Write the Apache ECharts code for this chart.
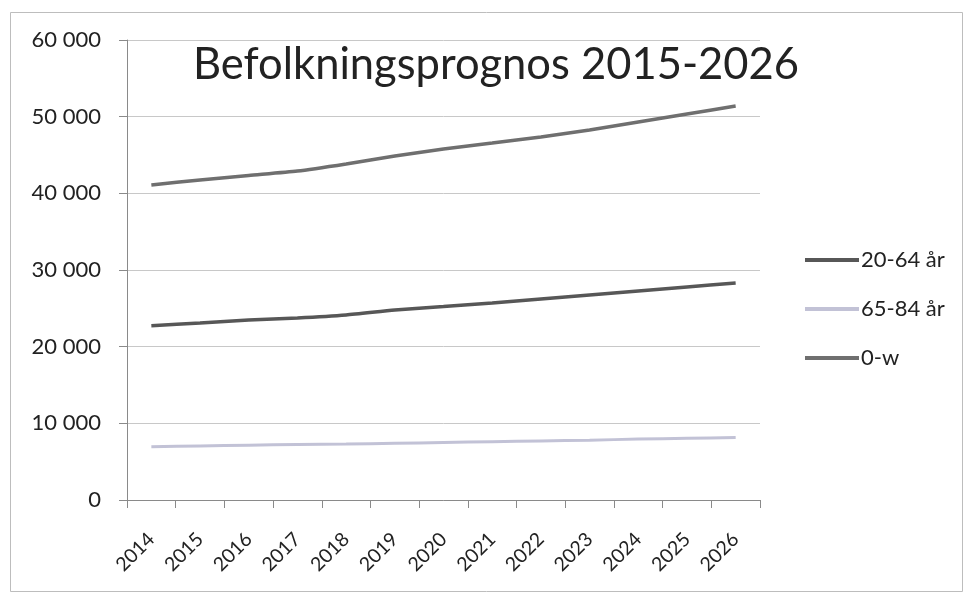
<!DOCTYPE html>
<html>
<head>
<meta charset="utf-8">
<script src="https://cdn.jsdelivr.net/npm/echarts@6/dist/echarts.min.js"></script>
<style>
html,body{margin:0;padding:0;background:#fff;}
#c{width:964px;height:593px;}
</style>
</head>
<body>
<div id="c"></div>
<script>
const titleText = 'Befolkningsprognos 2015-2026';
const years = ['2014','2015','2016','2017','2018','2019','2020','2021','2022','2023','2024','2025','2026'];
const age20_64 = [22730, 23090, 23480, 23740, 24130, 24780, 25240, 25700, 26220, 26740, 27260, 27780, 28300];
const age65_84 = [6950, 7050, 7150, 7230, 7300, 7400, 7500, 7600, 7700, 7800, 7950, 8050, 8150];
const age0_w = [41090, 41740, 42330, 42900, 43830, 44870, 45780, 46560, 47350, 48260, 49300, 50350, 51390];
const seriesNames = ['20-64 år', '65-84 år', '0-w'];

const fmt = v => String(v).replace(/\B(?=(\d{3})+(?!\d))/g, ' ');
const chart = echarts.init(document.getElementById('c'));
const font = 'Lato, "Open Sans", sans-serif';
chart.setOption({
  animation: false,
  backgroundColor: '#fff',
  textStyle: {fontFamily: font},
  title: {
    text: titleText,
    left: 491, top: 38, textAlign: 'center',
    textStyle: {fontFamily: font, fontSize: 43.5, fontWeight: 'normal', color: '#222'}
  },
  graphic: [{
    type: 'rect', shape: {x: 10.5, y: 12.5, width: 952, height: 579},
    style: {fill: 'none', stroke: '#bdbdbd', lineWidth: 1}, z: -1
  }],
  legend: {
    orient: 'vertical', left: 800, top: 244, itemGap: 27,
    itemWidth: 54, itemHeight: 4,
    icon: 'rect',
    textStyle: {fontFamily: font, fontSize: 22, color: '#222', padding: [0,0,0,-3]},
    data: seriesNames
  },
  grid: {left: 127, right: 204, top: 40, bottom: 93},
  xAxis: {
    type: 'category', data: years, boundaryGap: true,
    axisLine: {lineStyle: {color: '#8a8a8a', width: 1}},
    axisTick: {show: true, length: 8, lineStyle: {color: '#8a8a8a'}},
    axisLabel: {rotate: 45, fontSize: 19.5, color: '#222', margin: 36, fontFamily: font}
  },
  yAxis: {
    type: 'value', min: 0, max: 60000, interval: 10000,
    axisLine: {show: true, lineStyle: {color: '#8a8a8a', width: 1}},
    axisTick: {show: true, inside: false, length: 8, lineStyle: {color: '#8a8a8a'}},
    splitLine: {lineStyle: {color: '#c8c8c8', width: 1}},
    axisLabel: {formatter: fmt, fontSize: 22, color: '#222', margin: 26, fontFamily: font}
  },
  series: [
    {name: seriesNames[0], type: 'line', data: age20_64, symbol: 'none', smooth: 0.2,
     lineStyle: {color: '#575757', width: 3.5}, itemStyle: {color: '#575757'}},
    {name: seriesNames[1], type: 'line', data: age65_84, symbol: 'none', smooth: 0.2,
     lineStyle: {color: '#c2c2d6', width: 3}, itemStyle: {color: '#c2c2d6'}},
    {name: seriesNames[2], type: 'line', data: age0_w, symbol: 'none', smooth: 0.2,
     lineStyle: {color: '#6f6f6f', width: 3.5}, itemStyle: {color: '#6f6f6f'}}
  ]
});
</script>
</body>
</html>
